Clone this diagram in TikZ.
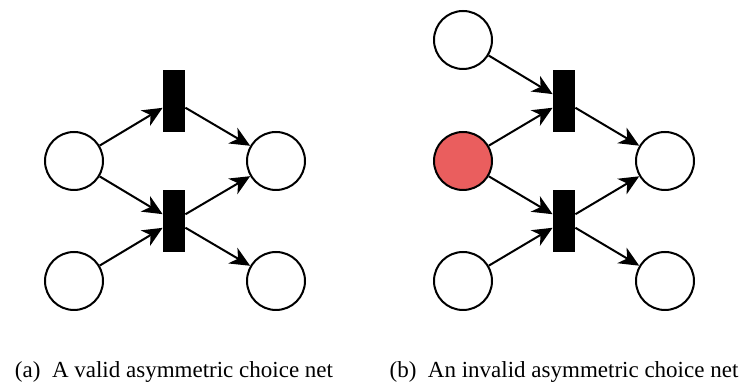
\documentclass[tikz,border=0pt]{standalone}
\usepackage{fontspec}
\setmainfont{Liberation Serif}
\usetikzlibrary{arrows.meta, positioning}
\definecolor{conflict}{RGB}{234,94,94}
\tikzstyle{place} = [circle, line width=1pt, minimum size=29pt, inner sep=0pt, draw=black, fill=white]
\tikzstyle{trans} = [rectangle, minimum width=11pt, minimum height=31pt, inner sep=0pt, fill=black]
\tikzstyle{arrow} = [line width=1pt, -{Stealth[length=10pt, width=9pt, inset=3pt]}]
\tikzstyle{caption} = [font=\fontsize{11.5}{14}\selectfont, inner sep=0pt, anchor=base]

\begin{document}
\begin{tikzpicture}[node distance = 30pt and 50pt, on grid, auto]
	\useasboundingbox (0,0) rectangle (372.5pt,-191.5pt);
	% (a) valid net
	\node (T1a) [trans] at (87pt,-50.5pt) {};
	\node (P1a) [place, below left = of T1a] {};
	\node (T2a) [trans, below = 60pt of T1a] {};
	\node (P2a) [place, below = 60pt of P1a] {};
	\node (P3a) [place, below right = 30pt and 51pt of T1a] {};
	\node (P4a) [place, below = 60pt of P3a] {};
	\draw [arrow] (P1a) -- (T1a);
	\draw [arrow] (P1a) -- (T2a);
	\draw [arrow] (P2a) -- (T2a);
	\draw [arrow] (T1a) -- (P3a);
	\draw [arrow] (T2a) -- (P3a);
	\draw [arrow] (T2a) -- (P4a);
	\node (CapA) [below = 138.5pt of T1a, caption] {(a)\hspace{0.5em}A valid asymmetric choice net};
	% (b) invalid net
	\node (T1b) [trans, right = 195pt of T1a] {};
	\node (P0b) [place, above left = 30.5pt and 50.5pt of T1b] {};
	\node (P1b) [place, fill=conflict, below left = 30pt and 50.5pt of T1b] {};
	\node (T2b) [trans, below = 60pt of T1b] {};
	\node (P2b) [place, below = 60pt of P1b] {};
	\node (P3b) [place, below right = 30pt and 50.5pt of T1b] {};
	\node (P4b) [place, below = 60pt of P3b] {};
	\draw [arrow] (P0b) -- (T1b);
	\draw [arrow] (P1b) -- (T1b);
	\draw [arrow] (P1b) -- (T2b);
	\draw [arrow] (P2b) -- (T2b);
	\draw [arrow] (T1b) -- (P3b);
	\draw [arrow] (T2b) -- (P3b);
	\draw [arrow] (T2b) -- (P4b);
	\node (CapB) [below = 138.5pt of T1b, caption] {(b)\hspace{0.5em}An invalid asymmetric choice net};
\end{tikzpicture}
\end{document}
